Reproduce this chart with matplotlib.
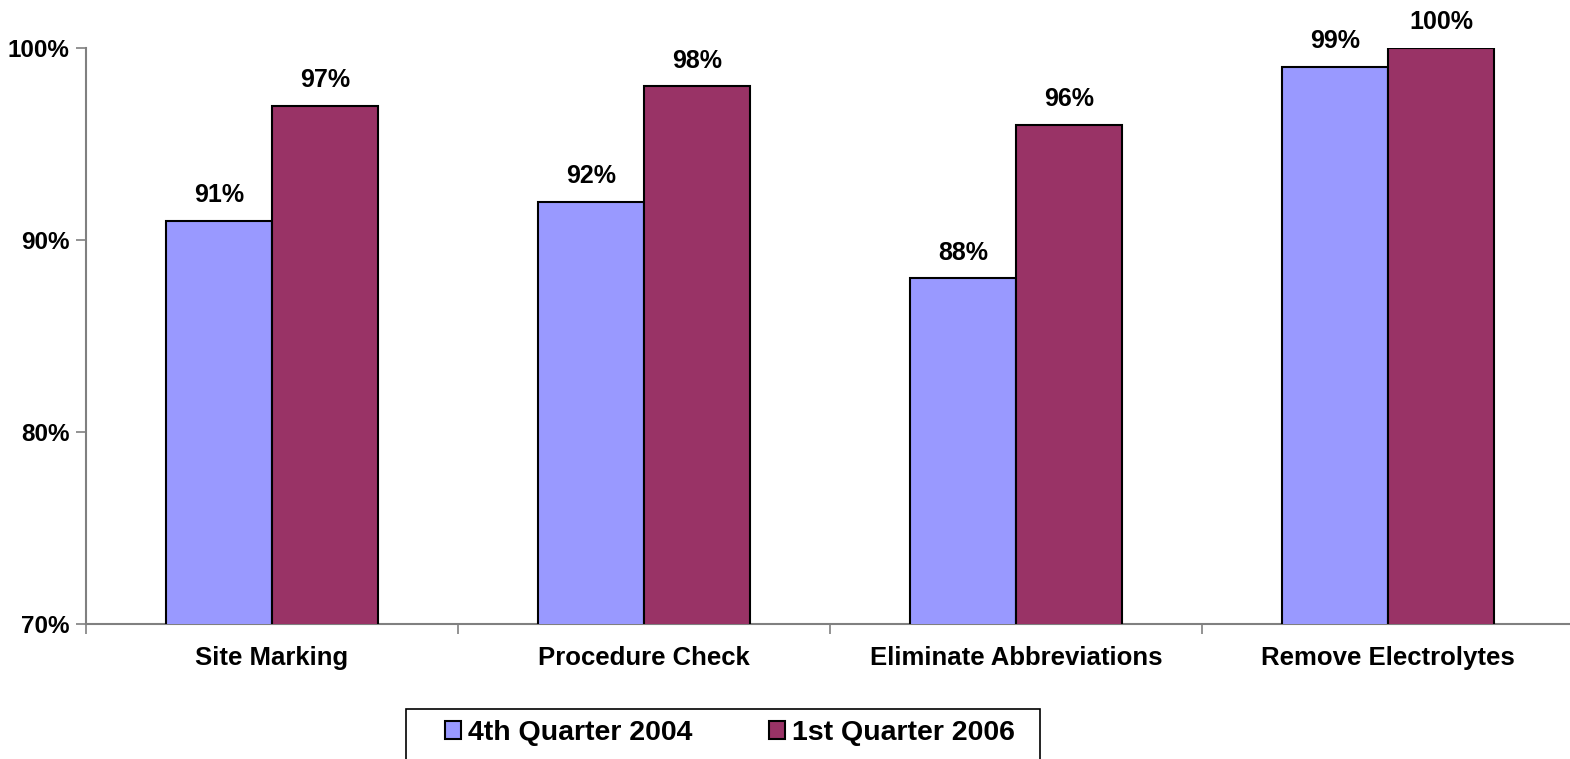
import matplotlib
matplotlib.use('Agg')
import matplotlib.pyplot as plt
from matplotlib.patches import Rectangle
import numpy as np

plt.rcParams['font.family'] = ['Liberation Sans', 'DejaVu Sans']
plt.rcParams['font.weight'] = 'bold'

categories = ['Site Marking', 'Procedure Check', 'Eliminate Abbreviations', 'Remove Electrolytes']
q4_2004 = [91, 92, 88, 99]
q1_2006 = [97, 98, 96, 100]
series_names = ['4th Quarter 2004', '1st Quarter 2006']
y_ticks = [70, 80, 90, 100]

W, H = 1570, 759
fig = plt.figure(figsize=(W / 100, H / 100), dpi=100)
ax = fig.add_axes([86 / W, 135 / H, 1488 / W, 576 / H])

x = np.arange(len(categories))
w = 0.285
b1 = ax.bar(x - w / 2, q4_2004, w, bottom=0, color='#9999FF', edgecolor='black', linewidth=1.5,
            label=series_names[0])
b2 = ax.bar(x + w / 2, q1_2006, w, bottom=0, color='#993366', edgecolor='black', linewidth=1.5,
            label=series_names[1])

for bars, vals in [(b1, q4_2004), (b2, q1_2006)]:
    for r, v in zip(bars, vals):
        ax.annotate('%d%%' % v, (r.get_x() + r.get_width() / 2, v), xytext=(0, 10),
                    textcoords='offset points', ha='center', va='bottom', fontsize=18, fontweight='bold')

ax.set_ylim(70, 100)
ax.set_xlim(-0.5, 3.5)
ax.set_yticks(y_ticks)
ax.set_yticklabels(['%d%%' % t for t in y_ticks])
ax.set_xticks(x)
ax.set_xticklabels(categories)
ax.set_xticks(np.arange(-0.5, 4, 1), minor=True)
ax.tick_params(axis='x', which='major', length=0, pad=16, labelsize=18.5)
ax.tick_params(axis='x', which='minor', length=7, color='#808080', width=1.2)
ax.tick_params(axis='y', length=7, color='#808080', width=1.2, pad=5, labelsize=17.5)

for s in ['top', 'right']:
    ax.spines[s].set_visible(False)
for s in ['left', 'bottom']:
    ax.spines[s].set_color('#808080')
    ax.spines[s].set_linewidth(1.5)
ax.spines['bottom'].set_zorder(0.5)

# legend box (runs off the bottom edge like the original)
fig.patches.append(Rectangle((406 / W, -0.05), (1040 - 406) / W, 0.05 + (H - 709) / H,
                             transform=fig.transFigure, facecolor='white', edgecolor='black',
                             linewidth=1.2))
leg = fig.legend(loc='upper left', bbox_to_anchor=(445 / W, 1 - 720 / H), ncol=2,
                 fontsize=20.5, frameon=False,
                 handlelength=0.55, handleheight=0.55, handletextpad=0.25, columnspacing=2.7,
                 borderpad=0, borderaxespad=0)
for t in leg.get_texts():
    t.set_fontweight('bold')

fig.savefig('out.png', dpi=100)
